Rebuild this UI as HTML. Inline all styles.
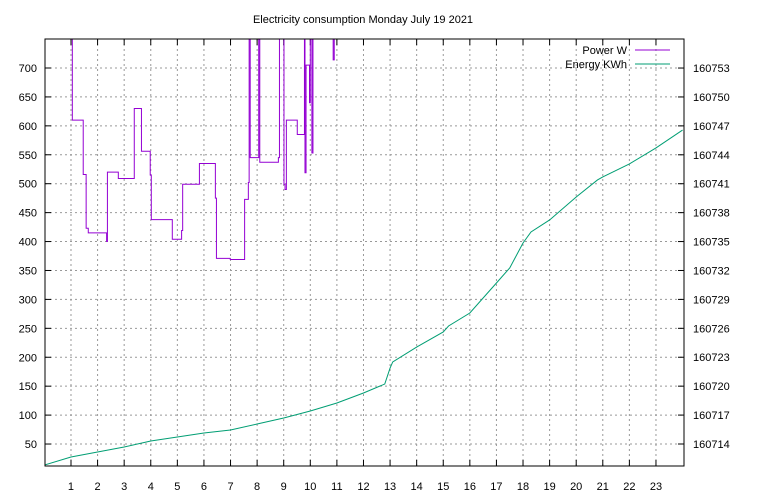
<!DOCTYPE html>
<html><head><meta charset="utf-8"><style>
body{margin:0;background:#fff;}
svg{display:block;font-family:"Liberation Sans",sans-serif;font-size:11px;}
</style></head><body>
<svg id="chart" width="768" height="500">
<text x="363" y="23" text-anchor="middle">Electricity consumption Monday July 19 2021</text>
<g id="grid"></g>
<g id="axes"></g>
<defs><clipPath id="clip"><rect x="45" y="39" width="639" height="427"/></clipPath></defs>
<g clip-path="url(#clip)">
<path id="power" fill="none" stroke="#9400d3" stroke-width="1"/>
<path id="energy" fill="none" stroke="#009e73" stroke-width="1"/>
</g>
<rect x="45" y="39" width="639" height="427" fill="none" stroke="#000"/>
<g>
<text x="627" y="54" text-anchor="end">Power W</text>
<line x1="635" y1="50" x2="670" y2="50" stroke="#9400d3"/>
<text x="627" y="68" text-anchor="end">Energy KWh</text>
<line x1="635" y1="64" x2="670" y2="64" stroke="#009e73"/>
</g>
</svg>
<script>
const xTicks=[1,2,3,4,5,6,7,8,9,10,11,12,13,14,15,16,17,18,19,20,21,22,23];
const yTicks=[50,100,150,200,250,300,350,400,450,500,550,600,650,700];
const y2Ticks=[160714,160717,160720,160723,160726,160729,160732,160735,160738,160741,160744,160747,160750,160753];
const powerHours=[1.05,1.46,1.57,1.65,2.34,2.37,2.78,3.38,3.65,3.98,4.02,4.81,5.16,5.2,5.83,6.43,6.47,6.99,7.53,7.6,7.67,7.7,7.74,8.06,8.1,8.8,8.84,9.01,9.05,9.1,9.51,9.78,9.8,9.84,9.97,10.0,10.06,10.1,10.86,10.9,24];
const powerValues=[610,516,423,415,400,520,509,630,556,515,438,404,419,499,535,475,371,369,473,473,502,800,545,800,537,545,800,499,490,610,585,800,519,705,640,800,553,800,714,800,800];
const energyHours=[0,1,2,3,4,5,6,7,8,9,10,11,12,12.8,13,13.1,14,15,15.2,16,17,17.5,18,18.3,19,20,20.8,21,22,23,24];
const energyValues=[160711.82,160712.65,160713.17,160713.69,160714.31,160714.73,160715.14,160715.45,160716.07,160716.70,160717.42,160718.25,160719.29,160720.22,160721.88,160722.51,160724.06,160725.62,160726.24,160727.59,160730.70,160732.26,160734.85,160735.99,160737.24,160739.62,160741.39,160741.70,160743.05,160744.71,160746.57];
const X=h=>44.4+h*26.59;
const Y=v=>68+(700-v)*0.5785;
const Y2=e=>444-(e-160714)*9.64;
const NS="http://www.w3.org/2000/svg";
const grid=document.getElementById('grid'),axes=document.getElementById('axes');
function mk(tag,attrs,parent){const e=document.createElementNS(NS,tag);for(const k in attrs)e.setAttribute(k,attrs[k]);parent.appendChild(e);return e;}
xTicks.forEach(t=>{const x=X(t);
const g=mk('line',{x1:x,y1:39,x2:x,y2:466,stroke:'#999','stroke-dasharray':'2,3'},grid);


const a=mk('line',{x1:x,y1:466,x2:x,y2:460,stroke:'#000'},axes);


const b=mk('line',{x1:x,y1:39,x2:x,y2:45,stroke:'#000'},axes);


const t2=mk('text',{x:x,y:490,'text-anchor':'middle'},axes);t2.textContent=t;

});
yTicks.forEach(v=>{const y=Y(v);
const g=mk('line',{x1:45,y1:y,x2:684,y2:y,stroke:'#999','stroke-dasharray':'2,3'},grid);


const a=mk('line',{x1:45,y1:y,x2:51,y2:y,stroke:'#000'},axes);


const t=mk('text',{x:37,y:y+4,'text-anchor':'end'},axes);t.textContent=v;

});
y2Ticks.forEach(v=>{const y=Y2(v);
const a=mk('line',{x1:684,y1:y,x2:678,y2:y,stroke:'#000'},axes);


const t=mk('text',{x:693,y:y+4},axes);t.textContent=v;

});
let d='M'+X(powerHours[0])+','+Y(900);
for(let i=0;i<powerHours.length;i++){const x=X(powerHours[i]);d+=' L'+x+','+Y(i?powerValues[i-1]:900)+' L'+x+','+Y(powerValues[i]);}
document.getElementById('power').setAttribute('d',d);
document.getElementById('energy').setAttribute('d',energyHours.map((h,i)=>(i?'L':'M')+X(h)+','+Y2(energyValues[i])).join(' '));
</script>
</body></html>
